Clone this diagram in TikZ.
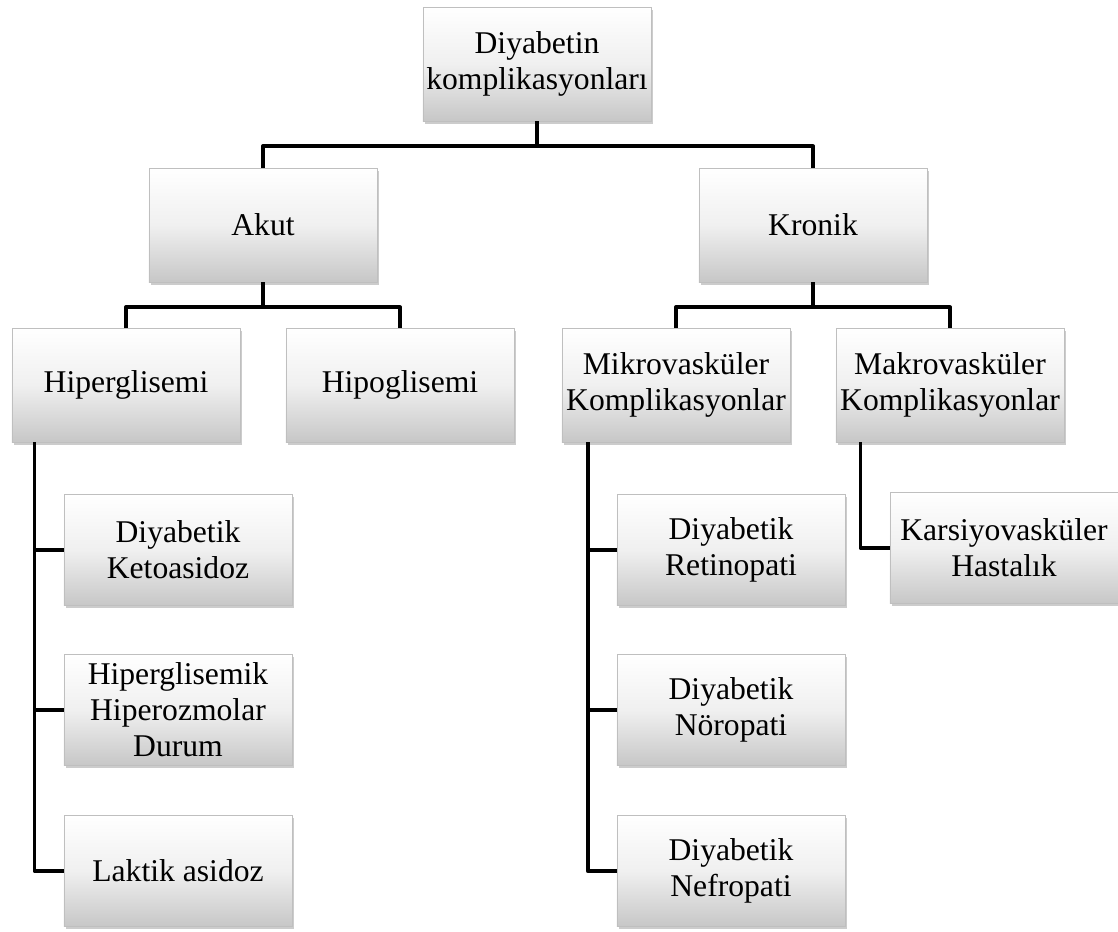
\documentclass[tikz,border=0pt]{standalone}
\usepackage{fontspec}
\setmainfont{Liberation Serif}
\usetikzlibrary{shadows}

\tikzset{
	box/.style={rectangle, minimum width=5.7cm, minimum height=2.85cm, inner sep=1pt, align=center,
		top color=white, bottom color=black!22, middle color=black!6, draw=black!25, line width=0.4pt,
		drop shadow={opacity=0.4, shadow xshift=0.6mm, shadow yshift=-0.7mm},
		font=\fontsize{22.5}{25.5}\selectfont},
	leaf/.style={box, minimum height=2.78cm},
	link/.style={line width=2.8pt, line join=round},
}

\begin{document}
\begin{tikzpicture}[x=0.025cm, y=-0.025cm]
	\useasboundingbox (0,0) rectangle (1118,932);
	\node [box]		(Komplikasyon)	at (537, 64)	{Diyabetin\\komplikasyonları};
	\node [box]		(Akut)			at (263, 225)	{Akut};
	\node [box]		(Kronik)		at (813, 225)	{Kronik};
	\node [box]		(Hiperglisemi)	at (126, 385)	{Hiperglisemi};
	\node [box]		(Hipoglisemi)	at (400, 385)	{Hipoglisemi};
	\node [box]		(Mikro)			at (676, 385)	{Mikrovasküler\\Komplikasyonlar};
	\node [box]		(Makro)			at (950, 385)	{Makrovasküler\\Komplikasyonlar};
	\node [leaf]	(Ketoasidoz)	at (178, 550)	{Diyabetik\\Ketoasidoz};
	\node [leaf]	(Hiperozmolar)	at (178, 710)	{Hiperglisemik\\Hiperozmolar\\Durum};
	\node [leaf]	(Laktik)		at (178, 871)	{Laktik asidoz};
	\node [leaf]	(Retinopati)	at (731, 550)	{Diyabetik\\Retinopati};
	\node [leaf]	(Noropati)		at (731, 710)	{Diyabetik\\Nöropati};
	\node [leaf]	(Nefropati)		at (731, 871)	{Diyabetik\\Nefropati};
	\node [leaf]	(Karsiyo)		at (1004, 548)	{Karsiyovasküler\\Hastalık};

	\draw [link] (Komplikasyon.south) -- ++(0, 25) -| (Akut.north);
	\draw [link] (Komplikasyon.south) -- ++(0, 25) -| (Kronik.north);
	\draw [link] (Akut.south) -- ++(0, 25) -| (Hiperglisemi.north);
	\draw [link] (Akut.south) -- ++(0, 25) -| (Hipoglisemi.north);
	\draw [link] (Kronik.south) -- ++(0, 25) -| (Mikro.north);
	\draw [link] (Kronik.south) -- ++(0, 25) -| (Makro.north);
	\draw [link] ([xshift=0.57cm]Hiperglisemi.south west) |- (Ketoasidoz.west);
	\draw [link] ([xshift=0.57cm]Hiperglisemi.south west) |- (Hiperozmolar.west);
	\draw [link] ([xshift=0.57cm]Hiperglisemi.south west) |- (Laktik.west);
	\draw [link] ([xshift=0.65cm]Mikro.south west) |- (Retinopati.west);
	\draw [link] ([xshift=0.65cm]Mikro.south west) |- (Noropati.west);
	\draw [link] ([xshift=0.65cm]Mikro.south west) |- (Nefropati.west);
	\draw [link] ([xshift=0.62cm]Makro.south west) |- (Karsiyo.west);
\end{tikzpicture}
\end{document}
